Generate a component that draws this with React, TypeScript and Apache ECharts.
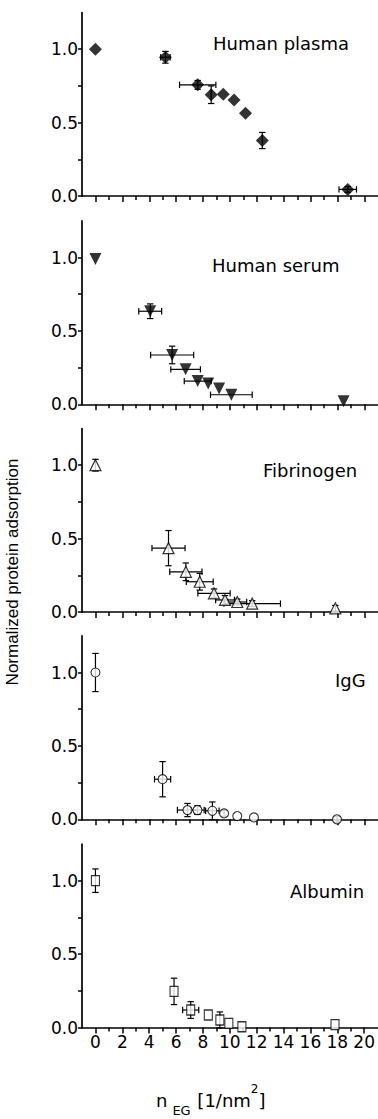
import React, { useEffect, useRef } from 'react';
import * as echarts from 'echarts';

// Panel titles
const panelTitles = ['Human plasma', 'Human serum', 'Fibrinogen', 'IgG', 'Albumin'];

// Each point: [n_EG, normalized adsorption, n_EG error, adsorption error]
const humanPlasma = [
  [0, 1.0, 0, 0],
  [5.2, 0.945, 0.35, 0.04],
  [7.6, 0.757, 1.35, 0.03],
  [8.6, 0.69, 0, 0.06],
  [9.5, 0.693, 0, 0],
  [10.3, 0.654, 0, 0],
  [11.15, 0.563, 0, 0],
  [12.4, 0.378, 0, 0.055],
  [18.75, 0.045, 0.65, 0.02],
];
const humanSerum = [
  [0, 0.99, 0, 0],
  [4.07, 0.634, 0.85, 0.05],
  [5.7, 0.336, 1.6, 0.06],
  [6.7, 0.238, 1.1, 0],
  [7.6, 0.158, 1.0, 0],
  [8.38, 0.142, 0, 0],
  [9.19, 0.108, 0, 0],
  [10.1, 0.065, 1.55, 0],
  [18.44, 0.02, 0, 0],
];
const fibrinogen = [
  [0, 1.0, 0, 0.04],
  [5.43, 0.435, 1.23, 0.12],
  [6.72, 0.274, 1.2, 0.06],
  [7.75, 0.206, 1.0, 0.057],
  [8.81, 0.127, 1.2, 0.03],
  [9.63, 0.082, 0.7, 0.03],
  [10.54, 0.068, 0.7, 0.02],
  [11.65, 0.057, 2.1, 0.02],
  [17.83, 0.025, 0, 0.02],
];
const igg = [
  [0, 1.0, 0, 0.13],
  [4.99, 0.273, 0.6, 0.12],
  [6.84, 0.063, 0.75, 0.045],
  [7.58, 0.063, 0.5, 0.03],
  [8.69, 0.058, 0.5, 0.06],
  [9.56, 0.04, 0, 0.02],
  [10.54, 0.022, 0, 0],
  [11.78, 0.013, 0, 0],
  [17.95, 0.0, 0, 0.02],
];
const albumin = [
  [0, 1.0, 0, 0.08],
  [5.85, 0.246, 0, 0.09],
  [7.09, 0.119, 0.6, 0.057],
  [8.4, 0.085, 0, 0],
  [9.26, 0.051, 0, 0.055],
  [9.93, 0.028, 0, 0],
  [10.9, 0.005, 0, 0],
  [17.83, 0.02, 0, 0],
];
const panelData = [humanPlasma, humanSerum, fibrinogen, igg, albumin];

// Axis ticks and labels
const xMajorTicks = [0, 2, 4, 6, 8, 10, 12, 14, 16, 18, 20];
const xMinorTicks = [1, 3, 5, 7, 9, 11, 13, 15, 17, 19];
const yTickValues = [0, 0.25, 0.5, 0.75, 1.0];
const yLabelValues = [0, 0.5, 1.0];

const FONT = 'DejaVu Sans';

const markerStyles: any[] = [
  { symbol: 'diamond', symbolSize: 13, symbolRotate: 0, itemStyle: { color: '#000' } },
  { symbol: 'triangle', symbolSize: 12, symbolRotate: 180, itemStyle: { color: '#000' } },
  { symbol: 'triangle', symbolSize: 11, symbolRotate: 0, itemStyle: { color: '#fff', borderColor: '#000', borderWidth: 1.2 } },
  { symbol: 'circle', symbolSize: 9, symbolRotate: 0, itemStyle: { color: '#fff', borderColor: '#000', borderWidth: 1.1 } },
  { symbol: 'rect', symbolSize: [8, 10], symbolRotate: 0, itemStyle: { color: '#fff', borderColor: '#000', borderWidth: 1.2 } },
];

const gridTops = [12.5, 220.8, 428.5, 635.8, 844];
const titlePos = [
  [213, 43],
  [212, 265],
  [263, 470],
  [335, 680],
  [290, 891],
];

function errorRender(params: any, api: any) {
  const x = api.value(0);
  const y = api.value(1);
  const xe = api.value(2);
  const ye = api.value(3);
  const cap = 3.2;
  const style = { stroke: '#000', lineWidth: 1.2, fill: null };
  const children: any[] = [];
  if (ye > 0) {
    const t = api.coord([x, y + ye]);
    const b = api.coord([x, y - ye]);
    children.push({ type: 'line', shape: { x1: t[0], y1: t[1], x2: b[0], y2: b[1] }, style });
    children.push({ type: 'line', shape: { x1: t[0] - cap, y1: t[1], x2: t[0] + cap, y2: t[1] }, style });
    children.push({ type: 'line', shape: { x1: b[0] - cap, y1: b[1], x2: b[0] + cap, y2: b[1] }, style });
  }
  if (xe > 0) {
    const l = api.coord([x - xe, y]);
    const r = api.coord([x + xe, y]);
    children.push({ type: 'line', shape: { x1: l[0], y1: l[1], x2: r[0], y2: r[1] }, style });
    children.push({ type: 'line', shape: { x1: l[0], y1: l[1] - cap, x2: l[0], y2: l[1] + cap }, style });
    children.push({ type: 'line', shape: { x1: r[0], y1: r[1] - cap, x2: r[0], y2: r[1] + cap }, style });
  }
  return { type: 'group', children };
}

export default function App() {
  const ref = useRef<HTMLDivElement>(null);
  useEffect(() => {
    if (!ref.current) return;
    const chart = echarts.init(ref.current, undefined, { renderer: 'svg' });
    const grids: any[] = [];
    const xAxes: any[] = [];
    const yAxes: any[] = [];
    const series: any[] = [];
    const graphics: any[] = [];
    panelData.forEach((data, i) => {
      grids.push({ left: 82, width: 298, top: gridTops[i], height: 183.5 });
      const last = i === panelData.length - 1;
      xAxes.push({
        type: 'value', gridIndex: i, min: -1, max: 21, position: 'bottom',
        axisLine: { show: true, onZero: false, lineStyle: { color: '#000', width: 1.7 } },
        axisTick: { show: true, customValues: xMajorTicks, length: 6, lineStyle: { color: '#000', width: 1.5 } },
        axisLabel: {
          show: last, customValues: xMajorTicks, margin: 6,
          color: '#000', fontFamily: FONT, fontSize: 17,
        },
        splitLine: { show: false },
      });
      xAxes.push({
        type: 'value', gridIndex: i, min: -1, max: 21, position: 'bottom',
        axisLine: { show: false, onZero: false },
        axisTick: { show: true, customValues: xMinorTicks, length: 4, lineStyle: { color: '#000', width: 1.5 } },
        axisLabel: { show: false },
        splitLine: { show: false },
      });
      yAxes.push({
        type: 'value', gridIndex: i, min: 0, max: 1.25,
        axisLine: { show: true, onZero: false, lineStyle: { color: '#000', width: 1.7 } },
        axisTick: { show: true, customValues: yTickValues, length: 4, lineStyle: { color: '#000', width: 1.5 } },
        axisLabel: {
          show: true, customValues: yLabelValues, margin: 4,
          color: '#000', fontFamily: FONT, fontSize: 17,
          formatter: (v: number) => v.toFixed(1),
        },
        splitLine: { show: false },
      });
      series.push({
        type: 'custom', xAxisIndex: 2 * i, yAxisIndex: i,
        data, renderItem: errorRender, encode: { x: 0, y: 1 }, z: 2, silent: true, clip: false,
      });
      const m = markerStyles[i];
      series.push({
        type: 'scatter', xAxisIndex: 2 * i, yAxisIndex: i,
        data: data.map((d) => [d[0], d[1]]),
        symbol: m.symbol, symbolSize: m.symbolSize, symbolRotate: m.symbolRotate,
        itemStyle: m.itemStyle, z: 3, silent: true,
      });
      graphics.push({
        type: 'text', x: titlePos[i][0], y: titlePos[i][1],
        style: { text: panelTitles[i], fill: '#000', font: `18px "${FONT}"`, textVerticalAlign: 'middle', textAlign: 'left' },
      });
    });
    graphics.push({
      type: 'text', x: 12, y: 572, rotation: Math.PI / 2,
      style: {
        text: 'Normalized protein adsorption', fill: '#000',
        font: '17px "Liberation Sans"', textAlign: 'center', textVerticalAlign: 'middle',
      },
    });
    graphics.push({
      type: 'text', x: 156, y: 1100,
      style: {
        text: '{n|n}{sub|EG}  {n|[1/nm}{sup|2}{n|]}',
        fill: '#000', textAlign: 'left', textVerticalAlign: 'middle',
        rich: {
          n: { fontFamily: FONT, fontSize: 18, lineHeight: 34, verticalAlign: 'middle', fill: '#000' },
          sub: { fontFamily: FONT, fontSize: 13, lineHeight: 12, verticalAlign: 'bottom', fill: '#000', padding: [0, 0, 0, 5] },
          sup: { fontFamily: FONT, fontSize: 12, lineHeight: 12, verticalAlign: 'top', fill: '#000' },
        },
      },
    });
    chart.setOption({
      animation: false,
      grid: grids,
      xAxis: xAxes,
      yAxis: yAxes,
      series,
      graphic: graphics,
    });
    return () => chart.dispose();
  }, []);
  return (
    <div
      ref={ref}
      style={{ position: 'absolute', left: 0, top: 0, width: 378, height: 1119, background: '#fff' }}
    />
  );
}
